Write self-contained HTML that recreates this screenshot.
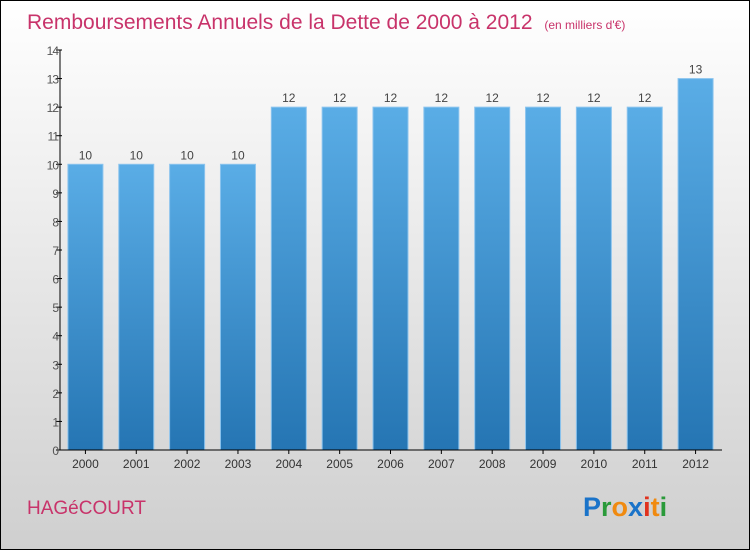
<!DOCTYPE html>
<html><head><meta charset="utf-8"><style>
body{margin:0}
#c{position:relative;width:748px;height:548px;border:1px solid #000;background:linear-gradient(#fff,#cfcfcf);font-family:"Liberation Sans",sans-serif;overflow:hidden}
</style></head><body>
<div id="c">
<svg width="748" height="548" style="position:absolute;left:0;top:0" id="svg">
<defs><linearGradient id="bg" x1="0" y1="0" x2="0" y2="1"><stop offset="0" stop-color="#5aade6"/><stop offset="1" stop-color="#2575b3"/></linearGradient></defs>
<text x="26" y="28" font-size="21" fill="#c8336a">Remboursements Annuels de la Dette de 2000 à 2012 <tspan font-size="12" dx="6">(en milliers d'€)</tspan></text>
<text x="26" y="513" font-size="19" fill="#c8336a">HAGéCOURT</text>
<text x="582" y="515" font-size="27" font-weight="bold"><tspan fill="#1a73c9">P</tspan><tspan fill="#2a9a3a">r</tspan><tspan fill="#f08a10">o</tspan><tspan fill="#1a73c9">x</tspan><tspan fill="#e0321e">i</tspan><tspan fill="#f08a10">t</tspan><tspan fill="#2a9a3a">i</tspan></text>
<g id="plot"></g>
</svg>
</div>
<script>
const categories=["2000","2001","2002","2003","2004","2005","2006","2007","2008","2009","2010","2011","2012"];
const values=[10,10,10,10,12,12,12,12,12,12,12,12,13];
const yTicks=[0,1,2,3,4,5,6,7,8,9,10,11,12,13,14];
const NS="http://www.w3.org/2000/svg";
const g=document.getElementById('plot');
const x0=59,x1=720,y0=449,yTop=49,yMax=14;
const y=v=>y0-(v/yMax)*(y0-yTop);
const band=(x1-x0)/categories.length;
const bx=i=>x0+band*i+band/2;
function el(t,a){const e=document.createElementNS(NS,t);for(const k in a)e.setAttribute(k,a[k]);g.appendChild(e);return e;}
categories.forEach((c,i)=>{
 const r=el('rect',{x:bx(i)-17.5,y:y(values[i]),width:35,height:y0-y(values[i]),fill:'url(#bg)',stroke:'#8cc4ee','stroke-width':1});
 
 
 const t=el('text',{x:bx(i),y:y(values[i])-5,'font-size':12,fill:'#444','text-anchor':'middle'});t.textContent=values[i];
 
 
 const l=el('text',{x:bx(i),y:467,'font-size':12,fill:'#333','text-anchor':'middle'});l.textContent=c;
 
 
 el('line',{x1:bx(i),x2:bx(i),y1:y0,y2:y0+4,stroke:'#000'});
});
yTicks.forEach(v=>{
 el('line',{x1:x0-4,x2:x0+2,y1:y(v),y2:y(v),stroke:'#000'});
 const t=el('text',{x:x0-2,y:y(v)+5,'font-size':12,fill:'#555','text-anchor':'end','letter-spacing':'-1'});t.textContent=v;
 
 
});
const ya=el('line',{x1:x0,x2:x0,y1:yTop,y2:y0,stroke:'#000'});


const xa=el('line',{x1:x0,x2:x1+1,y1:y0,y2:y0,stroke:'#000'});


</script>
</body></html>
